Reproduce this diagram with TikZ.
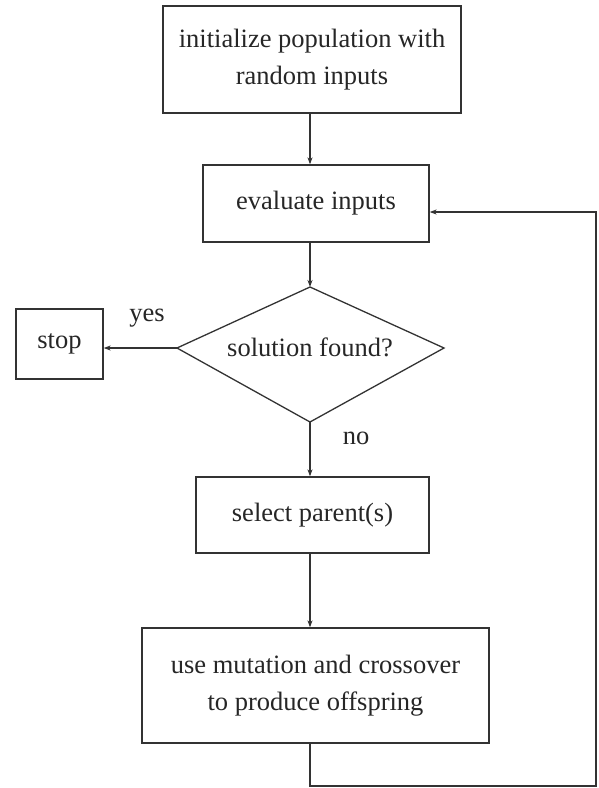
\documentclass[tikz,border=0pt]{standalone}
\usepackage{fontspec}
\setmainfont{Liberation Serif}
\usetikzlibrary{arrows.meta}
\begin{document}
\begin{tikzpicture}[x=1pt,y=-1pt,
  every node/.style={font=\fontsize{26.5}{37}\selectfont, text=black!85},
  box/.style={draw=black!80, line width=1.3pt, rectangle, inner sep=0pt, align=center},
  dec/.style={draw=black!80, line width=1.3pt, line join=miter},
  conn/.style={draw=black!80, line width=1.3pt, -{Stealth[length=7pt,width=5pt]}},
  lbl/.style={inner sep=0pt}]
\useasboundingbox (0,0) rectangle (598,788);
\node[box, minimum width=298pt, minimum height=107pt] (init) at (312,59.5) {initialize population with\\random inputs};
\node[box, minimum width=226pt, minimum height=77pt] (eval) at (316,203.5) {evaluate inputs};
\coordinate (solT) at (310,287);
\coordinate (solL) at (177,348);
\coordinate (solB) at (310,422);
\coordinate (solR) at (444,348);
\draw[dec] (solT) -- (solR) -- (solB) -- (solL) -- cycle;
\node[lbl] (sol) at (310,347) {solution found?};
\node[box, minimum width=87pt, minimum height=70pt] (stop) at (59.5,344) {stop};
\node[box, minimum width=233pt, minimum height=76pt] (sel) at (312.5,515) {select parent(s)};
\node[box, minimum width=347pt, minimum height=115pt] (mut) at (315.5,685.5) {use mutation and crossover\\to produce offspring};
\node[lbl] (yes) at (147,318) {yes};
\node[lbl] (no) at (356,438) {no};
\coordinate (lb) at (596,786);
\draw[conn] (solT |- init.south) -- (solT |- eval.north);
\draw[conn] (solT |- eval.south) -- (solT);
\draw[conn] (solL) -- (solL -| stop.east);
\draw[conn] (solB) -- (solB |- sel.north);
\draw[conn] (solB |- sel.south) -- (solB |- mut.north);
\draw[conn] (solB |- mut.south) |- (lb) |- ([yshift=-8.5pt]eval.east);
\end{tikzpicture}
\end{document}
